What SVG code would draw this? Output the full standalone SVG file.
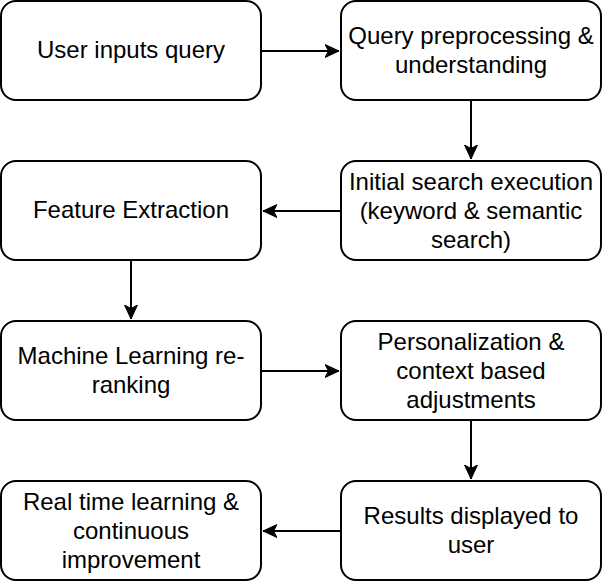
<svg xmlns="http://www.w3.org/2000/svg" width="602" height="582" viewBox="0 0 602 582">
<defs>
<style>
.box{fill:#fff;stroke:#000;stroke-width:2}
.t{font-family:"Liberation Sans",Arial,Helvetica,sans-serif;font-size:24px;fill:#000;text-anchor:middle}
.c{stroke:#000;stroke-width:2;fill:none;marker-end:url(#ah)}
</style>
<marker id="ah" viewBox="0 0 15 15" refX="14" refY="7.5" markerWidth="15" markerHeight="15" markerUnits="userSpaceOnUse" orient="auto">
<path d="M0,1 L14,7.5 L0,14 L3.5,7.5 Z" fill="#000" stroke="#000" stroke-width="1"/>
</marker>
</defs>
<rect width="602" height="582" fill="#fff"/>
<g id="connectors">
<line class="c" x1="261" y1="51" x2="339" y2="51"/>
<line class="c" x1="471" y1="100" x2="471" y2="159"/>
<line class="c" x1="341" y1="211" x2="263" y2="211"/>
<line class="c" x1="131" y1="260" x2="131" y2="319"/>
<line class="c" x1="261" y1="371" x2="339" y2="371"/>
<line class="c" x1="471" y1="420" x2="471" y2="479"/>
<line class="c" x1="341" y1="531" x2="263" y2="531"/>
</g>
<g id="n1"><rect class="box" x="1" y="1" width="260" height="99" rx="15"/>
<text class="t" x="131" y="58">User inputs query</text></g>
<g id="n2"><rect class="box" x="341" y="1" width="260" height="99" rx="15"/>
<text class="t" x="471" y="44">Query preprocessing &amp;</text>
<text class="t" x="471" y="73">understanding</text></g>
<g id="n3"><rect class="box" x="341" y="161" width="260" height="99" rx="15"/>
<text class="t" x="471" y="190">Initial search execution</text>
<text class="t" x="471" y="219">(keyword &amp; semantic</text>
<text class="t" x="471" y="248">search)</text></g>
<g id="n4"><rect class="box" x="1" y="161" width="260" height="99" rx="15"/>
<text class="t" x="131" y="218">Feature Extraction</text></g>
<g id="n5"><rect class="box" x="1" y="321" width="260" height="99" rx="15"/>
<text class="t" x="131" y="364">Machine Learning re-</text>
<text class="t" x="131" y="393">ranking</text></g>
<g id="n6"><rect class="box" x="341" y="321" width="260" height="99" rx="15"/>
<text class="t" x="471" y="350">Personalization &amp;</text>
<text class="t" x="471" y="379">context based</text>
<text class="t" x="471" y="408">adjustments</text></g>
<g id="n7"><rect class="box" x="341" y="481" width="260" height="99" rx="15"/>
<text class="t" x="471" y="524">Results displayed to</text>
<text class="t" x="471" y="553">user</text></g>
<g id="n8"><rect class="box" x="1" y="481" width="260" height="99" rx="15"/>
<text class="t" x="131" y="510">Real time learning &amp;</text>
<text class="t" x="131" y="539">continuous</text>
<text class="t" x="131" y="568">improvement</text></g>
</svg>
